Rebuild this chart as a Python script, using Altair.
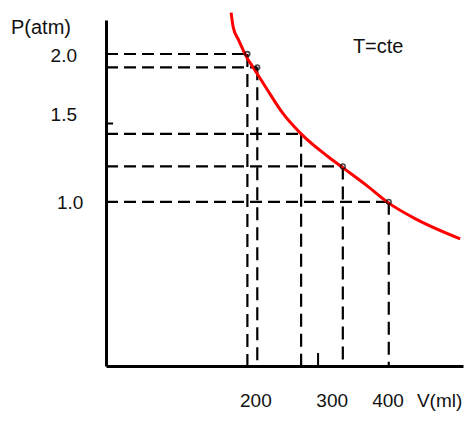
import altair as alt
import pandas as pd

# Measured points (volume in ml, pressure in atm)
V_pts = [200, 214, 276, 335, 400]
P_pts = [2.0, 1.91, 1.46, 1.24, 1.0]
marked = [True, True, False, True, True]

# Red isotherm
curve_V = [177, 180, 187, 200, 208, 228, 250, 276, 313, 334, 369, 399, 440, 501]
curve_P = [2.28, 2.18, 2.10, 1.97, 1.91, 1.76, 1.60, 1.46, 1.31, 1.235, 1.11, 0.995, 0.88, 0.75]

# Axis ranges
V_MIN, V_MAX = 0, 505
P_MIN, P_MAX = -0.11, 2.23

# Labels
y_tick_text = ["2.0", "1.5", "1.0"]
y_tick_V = [-41, -41, -32]
y_tick_P = [1.987, 1.588, 0.992]
x_tick_text = ["200", "300", "400"]
x_tick_V = [212, 320, 399]
x_tick_P = [-0.35, -0.35, -0.35]
unit_text = ["V(ml)"]
unit_V = [504]
unit_P = [-0.35]
other_text = ["P(atm)", "T=cte"]
other_V = [-92, 385]
other_P = [2.176, 2.047]

FONT = "Liberation Sans"

pts = pd.DataFrame({"V": V_pts, "P": P_pts, "m": marked, "V0": V_MIN, "Pb": P_MIN})
curve = pd.DataFrame({"V": curve_V, "P": curve_P, "o": range(len(curve_V))})

xs = alt.Scale(domain=[V_MIN, V_MAX], nice=False, zero=False)
ys = alt.Scale(domain=[P_MIN, P_MAX], nice=False, zero=False)
ax = alt.Axis(domainColor="black", domainWidth=3, ticks=False, labels=False,
              title=None, grid=False)

base = alt.Chart(pts)

hdash = base.mark_rule(color="black", strokeWidth=2.2, strokeDash=[12, 6]).encode(
    x=alt.X("V0:Q", scale=xs, axis=ax), x2="V:Q",
    y=alt.Y("P:Q", scale=ys, axis=ax))
vdash = base.mark_rule(color="black", strokeWidth=2.2, strokeDash=[13, 7]).encode(
    x="V:Q", y="P:Q", y2="Pb:Q")

line = alt.Chart(curve).mark_line(color="#ff0000", strokeWidth=3,
                                  interpolate="monotone").encode(
    x="V:Q", y="P:Q", order="o:Q")

dots = base.transform_filter("datum.m").mark_point(
    shape="circle", filled=False, size=22, color="black", strokeWidth=1.6).encode(
    x="V:Q", y="P:Q")

ticks = alt.Chart(pd.DataFrame({
    "x": [0, 300], "x2": [10, 300], "y": [1.53, P_MIN], "y2": [1.53, -0.022]
})).mark_rule(color="black", strokeWidth=2).encode(x="x:Q", x2="x2:Q", y="y:Q", y2="y2:Q")

def labels(texts, vs, ps, align, size):
    return alt.Chart(pd.DataFrame({"t": texts, "V": vs, "P": ps})).mark_text(
        align=align, baseline="middle", font=FONT, fontSize=size, color="#111").encode(
        x="V:Q", y="P:Q", text="t:N")

ylab = labels(y_tick_text, y_tick_V, y_tick_P, "right", 19)
xlab = labels(x_tick_text, x_tick_V, x_tick_P, "center", 19)
ulab = labels(unit_text, unit_V, unit_P, "right", 19)
olab = labels(other_text, other_V, other_P, "center", 20)

chart = alt.layer(hdash, vdash, line, dots, ticks, ylab, xlab, ulab, olab).properties(
    width=357, height=346,
    autosize=alt.AutoSizeParams(type="none"),
    padding={"left": 98, "top": 12, "right": 3, "bottom": 46},
).configure_view(stroke=None)

chart.save("out.html", embed_options={"renderer": "svg", "actions": False})
